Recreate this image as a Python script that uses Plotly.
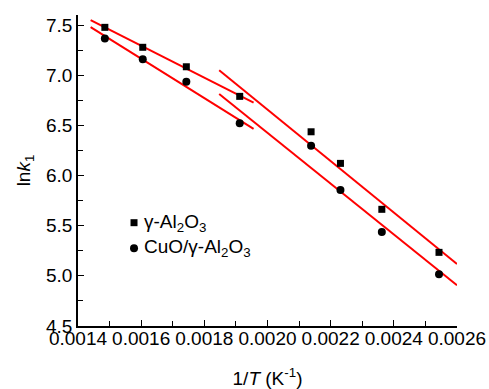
import numpy as np
import plotly.graph_objects as go

# data
inv_T = [0.001485, 0.001605, 0.001743, 0.001912, 0.002138, 0.002231, 0.002362, 0.002543]
lnk_al2o3 = [7.477, 7.278, 7.084, 6.789, 6.436, 6.121, 5.663, 5.234]
lnk_cuo = [7.367, 7.158, 6.935, 6.520, 6.297, 5.855, 5.437, 5.016]
series_names = ["γ-Al<sub>2</sub>O<sub>3</sub>", "CuO/γ-Al<sub>2</sub>O<sub>3</sub>"]

# fit groups (indices of points) and x-extent of each fitted line
high_T_idx = [0, 1, 2, 3]
low_T_idx = [3, 4, 5, 6, 7]
high_T_span = [0.00144, 0.001956]
low_T_span = [0.001847, 0.0026]

x_ticks = [0.0014, 0.0016, 0.0018, 0.0020, 0.0022, 0.0024, 0.0026]
y_ticks = [4.5, 5.0, 5.5, 6.0, 6.5, 7.0, 7.5]

FONT = "Liberation Sans, Arial, sans-serif"
FS = 19

fig = go.Figure()

x_arr = np.array(inv_T)
for series in (lnk_al2o3, lnk_cuo):
    y_arr = np.array(series)
    for idx, span in ((high_T_idx, high_T_span), (low_T_idx, low_T_span)):
        m, b = np.polyfit(x_arr[idx], y_arr[idx], 1)
        xs = np.array(span)
        fig.add_trace(go.Scatter(x=xs, y=m * xs + b, mode="lines",
                                 line=dict(color="#ff0000", width=2),
                                 showlegend=False, hoverinfo="skip"))

fig.add_trace(go.Scatter(x=inv_T, y=lnk_al2o3, mode="markers", name=series_names[0],
                         showlegend=False,
                         marker=dict(symbol="square", size=7, color="black")))
fig.add_trace(go.Scatter(x=inv_T, y=lnk_cuo, mode="markers", name=series_names[1],
                         showlegend=False,
                         marker=dict(symbol="circle", size=8, color="black")))

# hand-drawn legend (symbol close to text, as in the reference)
leg_x = 0.1478
leg_text_x = 0.1689
leg_rows = [0.3322, 0.2498]
shapes = [
    dict(type="rect", xref="paper", yref="paper", xsizemode="pixel", ysizemode="pixel",
         xanchor=leg_x, yanchor=leg_rows[0], x0=-3.5, x1=3.5, y0=-3.5, y1=3.5,
         fillcolor="black", line=dict(width=0)),
    dict(type="circle", xref="paper", yref="paper", xsizemode="pixel", ysizemode="pixel",
         xanchor=leg_x, yanchor=leg_rows[1], x0=-4, x1=4, y0=-4, y1=4,
         fillcolor="black", line=dict(width=0)),
]
annotations = [
    dict(text=name, xref="paper", yref="paper", x=leg_text_x, y=yy, xanchor="left",
         yanchor="middle", showarrow=False, font=dict(family=FONT, size=FS, color="black"))
    for name, yy in zip(series_names, leg_rows)
]

axis_common = dict(
    showline=True, linecolor="black", linewidth=1.5,
    ticks="inside", ticklen=6, tickwidth=1.2, tickcolor="black",
    showgrid=False, zeroline=False, mirror=False,
    tickfont=dict(family=FONT, size=FS, color="black"),
)

fig.update_xaxes(
    range=[0.0014, 0.0026], tickvals=x_ticks, tickformat=".4f",
    ticklabelstandoff=-6,
    minor=dict(dtick=0.0001, ticks="inside", ticklen=5, tickcolor="black", tickwidth=1.2),
    title=dict(text="1/<i>T</i> (K<sup>-1</sup>)", font=dict(family=FONT, size=FS, color="black"),
               standoff=27),
    **axis_common,
)
fig.update_yaxes(
    range=[4.5, 7.6], tickvals=y_ticks, tickformat=".1f",
    minor=dict(dtick=0.25, tick0=4.5, ticks="inside", ticklen=5, tickcolor="black", tickwidth=1.2),
    title=dict(text="ln<i>k</i><sub>1</sub>", font=dict(family=FONT, size=FS, color="black"),
               standoff=10),
    **axis_common,
)

fig.update_layout(
    width=489, height=389,
    margin=dict(l=78, r=32, t=15, b=63, autoexpand=False),
    plot_bgcolor="white", paper_bgcolor="white",
    font=dict(family=FONT, size=FS, color="black"),
    shapes=shapes, annotations=annotations,
    showlegend=False,
)

fig.write_html("out.html")
